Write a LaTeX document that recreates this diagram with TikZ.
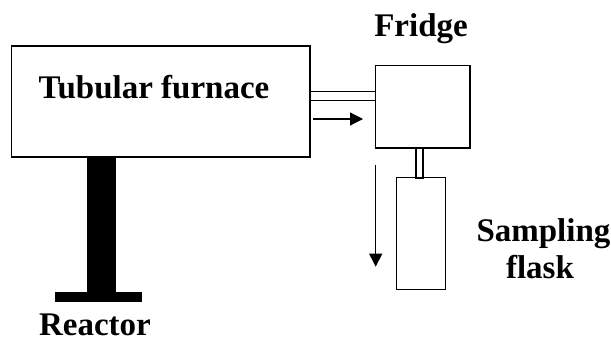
\documentclass[tikz,border=0pt]{standalone}
\usepackage{fontspec}
\setmainfont{Liberation Serif}
\usetikzlibrary{arrows.meta}
\tikzset{
  box/.style={draw, line width=1.4pt, inner sep=0pt, outer sep=0pt},
  solid block/.style={fill=black, inner sep=0pt, outer sep=0pt},
  label text/.style={font=\fontsize{33}{33}\selectfont\bfseries, anchor=base, inner sep=0pt},
  flow/.style={line width=1.2pt, -{Triangle[length=13pt,width=13pt]}}
}
\begin{document}
\begin{tikzpicture}[x=1pt,y=1pt]
\useasboundingbox (0,0) rectangle (611,338);
\node[box, minimum width=298.5pt, minimum height=111pt] (furnace) at (160.75,236.5) {};
\node[box, minimum width=94.7pt, minimum height=82.3pt] (fridge) at (422.7,231.15) {};
\node[box, minimum width=7pt, minimum height=30pt] (neck) at (419.5,175) {};
\node[box, minimum width=49pt, minimum height=112pt] (flask) at (421.2,104.7) {};

\node[solid block, minimum width=29.6pt, minimum height=136pt] (stand) at (101.5,113) {};
\node[solid block, minimum width=87.3pt, minimum height=10pt] (base) at (98.7,40.7) {};

\node[label text] (tubular) at (154,239) {Tubular furnace};
\node[label text] (fridgelabel) at (421,301) {Fridge};
\node[label text] (reactor) at (95,3) {Reactor};
\node[label text] (sampling) at (543.5,97) {Sampling};
\node[label text] (flasklabel) at (540,60) {flask};

\coordinate (pipetop) at (310,246.3);
\coordinate (pipelow) at (310,237.7);
\draw[line width=1.4pt] (pipetop) -- (pipetop -| fridge.west);
\draw[line width=1.4pt] (pipelow) -- (pipelow -| fridge.west);

\coordinate (flowa) at (313,219);
\coordinate (flowb) at (363,219);
\coordinate (flowc) at (375.7,173);
\coordinate (flowd) at (375.7,71.3);
\draw[flow] (flowa) -- (flowb);
\draw[flow] (flowc) -- (flowd);
\end{tikzpicture}
\end{document}
